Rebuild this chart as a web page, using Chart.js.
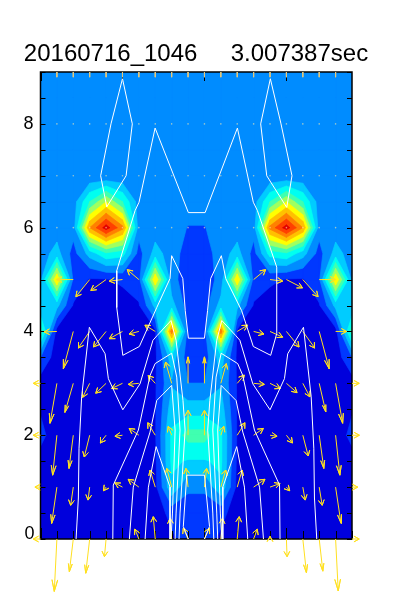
<!DOCTYPE html>
<html>
<head>
<meta charset="utf-8">
<script src="https://cdn.jsdelivr.net/npm/chart.js@4"></script>
<style>
  html, body { margin: 0; background: #fff; }
  canvas { display: block; }
</style>
</head>
<body>
<canvas id="plot" width="400" height="600"></canvas>
<script>
const titleText = '20160716_1046     3.007387sec';
const yTicks = [0, 2, 4, 6, 8];

// filled field, one row per 0.5 in y (y=9 first), 20 columns
const zRows = [
  [2.5,2.5,2.5,2.5,2.5,2.5,2.5,2.5,2.5,2.5,2.5,2.5,2.5,2.5,2.5,2.5,2.5,2.5,2.5,2.5],
  [2.5,2.5,2.5,2.5,2.5,2.5,2.5,2.5,2.5,2.5,2.5,2.5,2.5,2.5,2.5,2.5,2.5,2.5,2.5,2.5],
  [2.5,2.5,2.5,2.5,2.5,2.5,2.5,2.5,2.5,2.5,2.5,2.5,2.5,2.5,2.5,2.5,2.5,2.5,2.5,2.5],
  [2.5,2.5,2.5,2.5,2.5,2.5,2.5,2.5,2.5,2.5,2.5,2.5,2.5,2.5,2.5,2.5,2.5,2.5,2.5,2.5],
  [2.5,2.5,2.5,2.2,2.05,2.2,2.5,2.5,2.5,2.5,2.5,2.5,2.5,2.5,2.2,2.05,2.2,2.5,2.5,2.5],
  [2.5,2.5,2.5,5,7,5,2.5,2.5,2.5,2.5,2.5,2.5,2.5,2.5,5,7,5,2.5,2.5,2.5],
  [2.5,2.5,2.4,9,11.5,9.3,2.4,2.5,2.5,1.95,1.95,2.5,2.5,2.4,9.3,11.5,9,2.4,2.5,2.5],
  [2.5,3.4,1.6,3.4,4.8,4.4,1.6,3.4,2.5,1.5,1.5,2.5,3.4,1.6,4.4,4.8,3.4,1.6,3.4,2.5],
  [2.7,8,1.8,0.9,0.9,1.2,1.6,8,2.3,1.5,1.5,2.3,8,1.6,1.2,0.9,0.9,1.8,8,2.7],
  [3,3.3,0.9,0.5,0.5,0.5,0.9,3.3,3.4,1.5,1.5,3.4,3.3,0.9,0.5,0.5,0.5,0.9,3.3,3],
  [5.5,0.6,0.4,0.4,0.4,0.4,0.4,0.8,9.5,1.4,1.4,9.5,0.8,0.4,0.4,0.4,0.4,0.4,0.6,5.5],
  [2,0.4,0.4,0.4,0.4,0.4,0.4,0.8,3.5,1.5,1.5,3.5,0.8,0.4,0.4,0.4,0.4,0.4,0.4,2],
  [0.5,0.4,0.4,0.4,0.4,0.4,0.4,0.9,2.9,2,2,2.9,0.9,0.4,0.4,0.4,0.4,0.4,0.4,0.5],
  [0.9,0.4,0.4,0.4,0.4,0.4,0.4,0.9,3.5,3.5,3.5,3.5,0.9,0.4,0.4,0.4,0.4,0.4,0.4,0.9],
  [1.3,0.4,0.4,0.4,0.4,0.4,0.4,0.9,4.2,5.4,5.4,4.2,0.9,0.4,0.4,0.4,0.4,0.4,0.4,1.3],
  [0.6,0.4,0.4,0.4,0.4,0.4,0.4,0.8,4.2,3.9,3.9,4.2,0.8,0.4,0.4,0.4,0.4,0.4,0.4,0.6],
  [0.4,0.4,0.4,0.4,0.4,0.4,0.4,0.7,3.8,2.1,2.1,3.8,0.7,0.4,0.4,0.4,0.4,0.4,0.4,0.4],
  [0.4,0.4,0.4,0.4,0.4,0.4,0.4,0.5,1.3,1.7,1.7,1.3,0.5,0.4,0.4,0.4,0.4,0.4,0.4,0.4],
  [0.4,0.4,0.4,0.4,0.4,0.4,0.4,0.4,0.8,1.5,1.5,0.8,0.4,0.4,0.4,0.4,0.4,0.4,0.4,0.4]
];
const bandColors = ['#0000DC', '#0038FF', '#008CFF', '#00CCFF', '#00FFF0', '#40FFB0',
                    '#A0FF60', '#FFFF00', '#FFC000', '#FF8000', '#FF4000', '#E00000'];

// white contour lines as [column, y]
const lineLoopLeft = [[5,8.87],[5.6,8],[5.22,7],[4.04,6.4],[3.67,7],[4.3,8],[5,8.87]];
const lineLoopRight = [[14.02,8.87],[13.43,8],[13.8,7],[15.02,6.39],[15.34,7],[14.67,8],[14.02,8.87]];
const lineBig = [[9.02,6.29],[6.99,7.92],[6.01,6.49],[5.77,6.33],[4.65,5.17],[4.65,4.46],[5.02,3.54],[6.03,3.71],
  [7.09,4.46],[7.9,5.02],[8,5.46],[8.68,5.02],[8.83,4.4],[9.02,3.87],[10,3.87],[10.19,4.4],[10.38,5.02],
  [11.03,5.46],[11.3,5.02],[12.27,4.4],[12.98,3.71],[14.04,3.54],[14.41,3.96],[14.41,5.24],[13.23,6.33],
  [12.98,6.49],[12.01,7.92],[10.04,6.29],[9.02,6.29]];
const lineOuterLeft = [[2.17,0],[2.31,0.79],[2.35,1.75],[2.51,2.74],[2.98,4.08],[3.94,3.57],[4.14,3.09],[5.02,2.49],
  [6.07,2.99],[6.86,3.83],[7.11,3.92],[7.96,4.21],[8.27,3.83],[8.69,2.67],[8.82,2.1],[8.51,0.5],[8.45,0]];
const lineMidLeft = [[4.41,0],[4.44,1.04],[5.97,2.1],[6.68,3.15],[6.99,3.38],[8,3.58],[8.31,3.12],[8.51,2.1],[8.27,0.5],[8.21,0]];
const lineInnerLeft = [[5.42,0],[5.66,1],[6.68,2.06],[7.09,2.67],[8,2.96],[8.21,2.1],[8.05,0.5],[7.96,0]];
const lineApexLeft = [[6.38,0],[6.58,1],[7.05,1.78],[7.9,1],[7.9,0]];
const lineBox = [[9.02,0],[8.71,0.24],[8.92,1.23],[10,1.23],[10.31,0.24],[10,0]];
const lineOuterRight = [[16.85,0],[16.71,0.79],[16.67,1.75],[16.51,2.74],[16.04,4.08],[15.08,3.57],[14.88,3.09],[14,2.49],
  [12.95,2.99],[12.16,3.83],[11.91,3.92],[11.06,4.21],[10.75,3.83],[10.33,2.67],[10.2,2.1],[10.51,0.5],[10.57,0]];
const lineMidRight = [[14.61,0],[14.58,1.04],[13.05,2.1],[12.34,3.15],[12.03,3.38],[11.02,3.58],[10.71,3.12],[10.51,2.1],[10.75,0.5],[10.81,0]];
const lineInnerRight = [[13.6,0],[13.36,1],[12.34,2.06],[11.93,2.67],[11.02,2.96],[10.81,2.1],[10.97,0.5],[11.06,0]];
const lineApexRight = [[12.64,0],[12.44,1],[11.97,1.78],[11.12,1],[11.12,0]];

// vectors: rows at y = 0..5, 20 columns; U in columns, V in y units
const vecRowY = [0, 1, 2, 3, 4, 5];
const vecU = [
  [-.44,-.16,-.24,-.24,-.1,0,-.24,-.12,-.1,-.29,.3,.1,.12,.22,0,.04,.22,.22,.16,.44],
  [-.34,-.32,-.16,-.1,-.16,-.46,-.65,-.32,-.3,-.13,.13,.3,.3,.69,.61,.2,.14,.18,.33,.35],
  [-.44,-.26,-.26,-.33,-.37,-.46,-.59,-.46,-.21,0,0,.18,.47,.59,.43,.37,.33,.28,.26,.45],
  [-.44,-.42,-.51,-.43,-.63,-.66,-.65,-.43,-.37,0,0,.33,.43,.65,.63,.65,.43,.4,.43,.44],
  [0,-.77,-.61,-.7,-.77,-.8,-.6,-.63,0,0,0,0,.63,.63,.77,.77,.73,.61,.67,0],
  [0,0,-1.01,-.84,-.93,-.8,-.71,0,0,0,0,0,0,.73,.77,.98,.93,1,0,0]
];
const vecV = [
  [0,-1.01,-.63,-.66,-.34,0,.19,.43,.4,.21,.21,.4,.43,.19,.05,-.34,-.65,-.62,-1,0],
  [0,-.7,-.35,-.25,-.07,.08,.15,.33,.36,.36,.36,.33,.33,.15,.07,-.07,-.25,-.35,-.7,0],
  [0,-.77,-.64,-.42,-.15,-.02,.13,.24,.17,.48,.48,.17,.24,.13,-.02,-.15,-.4,-.64,-.77,0],
  [0,-.77,-.56,-.27,-.19,-.1,-.02,.15,.41,.51,.51,.38,.16,-.02,-.1,-.18,-.26,-.55,-.77,0],
  [0,-.01,-.72,-.32,-.3,-.14,-.05,.12,0,0,0,0,.12,-.05,-.11,-.3,-.32,-.72,0,0],
  [0,0,0,-.33,-.21,-.03,.19,0,0,0,0,0,0,.19,-.03,-.16,-.33,0,0,0]
];
const calmRowY = [6, 7, 8];
const calmCols = [1, 2, 3, 4, 5, 6, 7, 8, 9, 10, 11, 12, 13, 14, 15, 16, 17, 18];
const stubCols = [1, 2, 3, 4, 5, 6, 7, 8, 9, 10, 11, 12, 13, 14, 15, 16, 17, 18];
const stubLength = 0.1;

const xMajorEvery = 5;

function toPoints(list) {
    return list.map(p => ({ x: p[0], y: p[1] }));
}

// shafts and heads of the arrows, broken with nulls
function arrowPoints() {
    const out = [];
    const pxX = 16.39, pxY = 52;
    vecRowY.forEach((y, r) => {
        vecU[r].forEach((u, c) => {
            const v = vecV[r][c];
            const dx = u * pxX, dy = v * pxY;
            const len = Math.hypot(dx, dy);
            if (len < 1) return;
            const tip = { x: c + u, y: y + v };
            const ang = Math.atan2(dy, dx);
            const barb = Math.max(6, Math.min(len * 0.25, 12));
            const spread = len > 25 ? 0.24 : 0.5;
            out.push({ x: c, y: y }, tip);
            [1, -1].forEach(s => {
                const a = ang + Math.PI - s * spread;
                out.push({ x: tip.x + barb * Math.cos(a) / pxX, y: tip.y + barb * Math.sin(a) / pxY }, tip);
            });
            out.push({ x: null, y: null });
        });
    });
    return out;
}

function stubPoints() {
    const out = [];
    stubCols.forEach(c => out.push({ x: c, y: 9 }, { x: c, y: 9 - stubLength }, { x: null, y: null }));
    return out;
}

function calmPoints() {
    const out = [];
    calmRowY.forEach(y => calmCols.forEach(c => out.push({ x: c, y: y })));
    return out;
}

function clipAbove(poly, level) {
    const res = [];
    for (let i = 0; i < poly.length; i++) {
        const a = poly[i], b = poly[(i + 1) % poly.length];
        if (a[2] >= level) res.push(a);
        if ((a[2] >= level) !== (b[2] >= level)) {
            const t = (level - a[2]) / (b[2] - a[2]);
            res.push([a[0] + t * (b[0] - a[0]), a[1] + t * (b[1] - a[1]), level]);
        }
    }
    return res;
}

const contourFill = {
    id: 'contourFill',
    beforeDatasetsDraw(chart) {
        const { ctx, chartArea: area, scales: { x, y } } = chart;
        ctx.save();
        ctx.beginPath();
        ctx.rect(area.left, area.top, area.width, area.height);
        ctx.clip();
        ctx.fillStyle = bandColors[0];
        ctx.fillRect(area.left, area.top, area.width, area.height);
        const rowY = r => 9 - r * 0.5;
        bandColors.forEach((color, level) => {
            if (level === 0) return;
            ctx.beginPath();
            for (let r = 0; r < zRows.length - 1; r++) {
                for (let c = 0; c < 19; c++) {
                    const quad = [
                        [c, rowY(r), zRows[r][c]], [c + 1, rowY(r), zRows[r][c + 1]],
                        [c + 1, rowY(r + 1), zRows[r + 1][c + 1]], [c, rowY(r + 1), zRows[r + 1][c]]
                    ];
                    const poly = clipAbove(quad, level);
                    if (poly.length < 3) continue;
                    poly.forEach((p, i) => {
                        const px = x.getPixelForValue(p[0]), py = y.getPixelForValue(p[1]);
                        if (i === 0) ctx.moveTo(px, py); else ctx.lineTo(px, py);
                    });
                    ctx.closePath();
                }
            }
            ctx.fillStyle = color;
            ctx.strokeStyle = color;
            ctx.lineWidth = 0.7;
            ctx.fill();
            ctx.stroke();
        });
        ctx.restore();

        // frame and inward ticks
        ctx.save();
        ctx.strokeStyle = '#000';
        ctx.lineWidth = 1;
        const seg = (x1, y1, x2, y2) => { ctx.moveTo(x1, y1); ctx.lineTo(x2, y2); };
        ctx.beginPath();
        for (let v = 0; v <= 9; v += 0.5) {
            const py = Math.round(y.getPixelForValue(v)) + 0.5;
            seg(area.left, py, area.left + 5, py);
            seg(area.right, py, area.right - 5, py);
        }
        for (let c = 0; c <= 19; c++) {
            const px = Math.round(x.getPixelForValue(c)) + 0.5;
            const len = c % xMajorEvery === 0 ? 11 : 8;
            seg(px, area.bottom, px, area.bottom - len);
            if (c % xMajorEvery === 0) seg(px, area.top, px, area.top + 9);
        }
        ctx.stroke();
        ctx.lineWidth = 1.5;
        ctx.strokeRect(area.left, area.top, area.width, area.height);
        ctx.restore();

        // the 0 label sits on the axis line, not centred on it
        ctx.save();
        ctx.fillStyle = '#000';
        ctx.font = "18px 'Liberation Sans', sans-serif";
        ctx.textAlign = 'right';
        ctx.textBaseline = 'middle';
        ctx.fillText('0', area.left - 6, y.getPixelForValue(0) - 5);
        ctx.restore();
    }
};

const whiteLines = [lineLoopLeft, lineLoopRight, lineBig, lineOuterLeft, lineMidLeft, lineInnerLeft, lineApexLeft,
    lineBox, lineOuterRight, lineMidRight, lineInnerRight, lineApexRight];

new Chart(document.getElementById('plot'), {
    type: 'line',
    data: {
        datasets: [
            ...whiteLines.map(l => ({
                data: toPoints(l), borderColor: '#FFFFFF', borderWidth: 1, pointRadius: 0, tension: 0, fill: false
            })),
            { data: calmPoints(), showLine: false, pointRadius: 0.8, pointBorderWidth: 0,
              pointBackgroundColor: 'rgba(255,240,170,0.6)', clip: false },
            { data: stubPoints(), borderColor: '#E8C878', borderWidth: 1, pointRadius: 0, tension: 0, spanGaps: false, clip: false },
            { data: arrowPoints(), borderColor: '#FFE020', borderWidth: 1, pointRadius: 0, tension: 0, spanGaps: false, clip: false }
        ]
    },
    options: {
        responsive: false,
        animation: false,
        layout: { padding: { left: 0, right: 8, top: 0, bottom: 61 } },
        plugins: {
            legend: { display: false },
            tooltip: { enabled: false },
            title: {
                display: true,
                text: titleText,
                color: '#000',
                font: { family: "'Liberation Sans', sans-serif", size: 24, weight: 'normal' },
                padding: { top: 40.2, bottom: 3 }
            }
        },
        scales: {
            x: { type: 'linear', min: 0, max: 19, display: false },
            y: {
                type: 'linear', min: 0, max: 9,
                afterFit(scale) { scale.width = 40.5; },
                afterBuildTicks(scale) { scale.ticks = yTicks.map(v => ({ value: v })); },
                grid: { display: false, drawTicks: false },
                border: { display: false },
                ticks: {
                    color: '#000',
                    padding: 7,
                    font: { family: "'Liberation Sans', sans-serif", size: 18 },
                    callback: v => (v === 0 ? '' : String(v))
                }
            },
            yRight: {
                type: 'linear', position: 'right', min: 0, max: 9,
                afterFit(scale) { scale.width = 40; },
                grid: { display: false, drawTicks: false },
                border: { display: false },
                ticks: { display: false }
            }
        }
    },
    plugins: [contourFill]
});
</script>
</body>
</html>
